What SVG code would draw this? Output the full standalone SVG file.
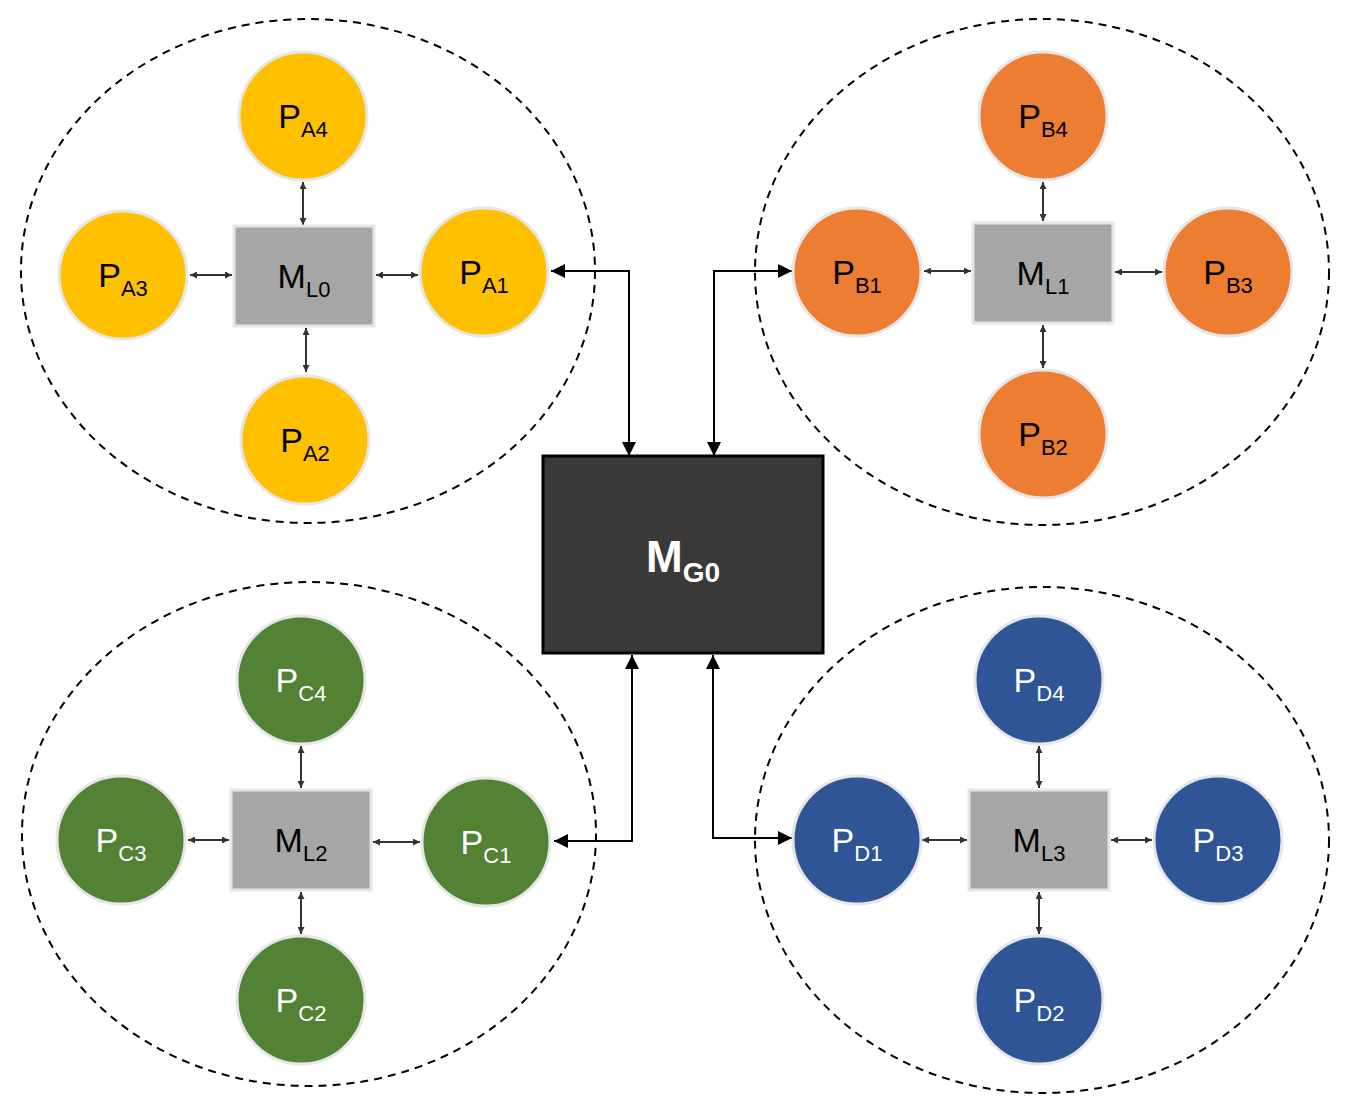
<svg xmlns="http://www.w3.org/2000/svg" width="1353" height="1110" viewBox="0 0 1353 1110">
<style>
.ell{fill:none;stroke:#000;stroke-width:2;stroke-dasharray:8,6}
.pa{fill:#ffc000;stroke:#e6e6e6;stroke-width:3}
.pb{fill:#ed7d31;stroke:#e6e6e6;stroke-width:3}
.pc{fill:#548235;stroke:#e6e6e6;stroke-width:3}
.pd{fill:#2f5597;stroke:#e6e6e6;stroke-width:3}
.ml{fill:#a6a6a6;stroke:#e6e6e6;stroke-width:3}
.t{font-family:"Liberation Sans",Arial,sans-serif;font-size:34px;text-anchor:middle}
.s{font-size:22px}
.dk{fill:#000}.wh{fill:#fff}
.in{stroke:#333;stroke-width:2;fill:none;marker-start:url(#a2);marker-end:url(#a2)}
.ex{stroke:#000;stroke-width:2;fill:none;marker-start:url(#a1);marker-end:url(#a1)}
</style>
<defs>
<marker id="a2" viewBox="0 0 10 10" refX="10" refY="5" markerWidth="7" markerHeight="7" markerUnits="userSpaceOnUse" orient="auto-start-reverse"><path d="M0,0L10,5L0,10z" fill="#333"/></marker>
<marker id="a1" viewBox="0 0 10 10" refX="10" refY="5" markerWidth="14" markerHeight="14" markerUnits="userSpaceOnUse" orient="auto-start-reverse"><path d="M0,0L10,5L0,10z" fill="#000"/></marker>
</defs>
<g id="clusters">
<ellipse class="ell" cx="308" cy="271" rx="287" ry="252"/>
<ellipse class="ell" cx="1042" cy="272" rx="287" ry="253"/>
<ellipse class="ell" cx="309" cy="834" rx="287" ry="252"/>
<ellipse class="ell" cx="1042" cy="840" rx="287" ry="253"/>
</g>
<g id="connectors">
<path class="in" d="M303,182V225"/><path class="in" d="M306,328V372"/>
<path class="in" d="M190,275H232"/><path class="in" d="M376,275H418"/>
<path class="in" d="M1043,182V221"/><path class="in" d="M1043,325V368"/>
<path class="in" d="M924,271H971"/><path class="in" d="M1115,272H1162"/>
<path class="in" d="M301,746V788"/><path class="in" d="M301,892V934"/>
<path class="in" d="M188,840H229"/><path class="in" d="M373,842H420"/>
<path class="in" d="M1039,746V788"/><path class="in" d="M1039,892V934"/>
<path class="in" d="M922,840H967"/><path class="in" d="M1111,840H1152"/>
<path class="ex" d="M551,271H629V456"/>
<path class="ex" d="M714,456V271H792"/>
<path class="ex" d="M632,655V841H554"/>
<path class="ex" d="M713,655V838H792"/>
</g>
<g id="MG0"><rect x="543" y="456" width="280" height="197" fill="#3a3937" stroke="#000" stroke-width="3"/>
<text class="t wh" x="683" y="572" font-size="44" font-weight="bold" style="font-size:44px">M<tspan style="font-size:28px" dy="10">G0</tspan></text></g>
<g id="ML0"><rect class="ml" x="234" y="226" width="140" height="100"/><text class="t dk" x="304" y="288">M<tspan class="s" dy="9">L0</tspan></text></g>
<g id="ML1"><rect class="ml" x="973" y="223" width="140" height="100"/><text class="t dk" x="1043" y="285">M<tspan class="s" dy="9">L1</tspan></text></g>
<g id="ML2"><rect class="ml" x="231" y="790" width="140" height="100"/><text class="t dk" x="301" y="852">M<tspan class="s" dy="9">L2</tspan></text></g>
<g id="ML3"><rect class="ml" x="969" y="790" width="140" height="100"/><text class="t dk" x="1039" y="852">M<tspan class="s" dy="9">L3</tspan></text></g>
<g id="PA4"><circle class="pa" cx="303" cy="116" r="64"/><text class="t dk" x="303" y="128">P<tspan class="s" dy="9">A4</tspan></text></g>
<g id="PA3"><circle class="pa" cx="123" cy="275" r="64"/><text class="t dk" x="123" y="287">P<tspan class="s" dy="9">A3</tspan></text></g>
<g id="PA1"><circle class="pa" cx="484" cy="272" r="64"/><text class="t dk" x="484" y="284">P<tspan class="s" dy="9">A1</tspan></text></g>
<g id="PA2"><circle class="pa" cx="305" cy="440" r="64"/><text class="t dk" x="305" y="452">P<tspan class="s" dy="9">A2</tspan></text></g>
<g id="PB4"><circle class="pb" cx="1043" cy="116" r="64"/><text class="t dk" x="1043" y="128">P<tspan class="s" dy="9">B4</tspan></text></g>
<g id="PB1"><circle class="pb" cx="857" cy="272" r="64"/><text class="t dk" x="857" y="284">P<tspan class="s" dy="9">B1</tspan></text></g>
<g id="PB3"><circle class="pb" cx="1228" cy="272" r="64"/><text class="t dk" x="1228" y="284">P<tspan class="s" dy="9">B3</tspan></text></g>
<g id="PB2"><circle class="pb" cx="1043" cy="434" r="64"/><text class="t dk" x="1043" y="446">P<tspan class="s" dy="9">B2</tspan></text></g>
<g id="PC4"><circle class="pc" cx="301" cy="680" r="64"/><text class="t wh" x="301" y="692">P<tspan class="s" dy="9">C4</tspan></text></g>
<g id="PC3"><circle class="pc" cx="121" cy="840" r="64"/><text class="t wh" x="121" y="852">P<tspan class="s" dy="9">C3</tspan></text></g>
<g id="PC1"><circle class="pc" cx="486" cy="842" r="64"/><text class="t wh" x="486" y="854">P<tspan class="s" dy="9">C1</tspan></text></g>
<g id="PC2"><circle class="pc" cx="301" cy="1000" r="64"/><text class="t wh" x="301" y="1012">P<tspan class="s" dy="9">C2</tspan></text></g>
<g id="PD4"><circle class="pd" cx="1039" cy="680" r="64"/><text class="t wh" x="1039" y="692">P<tspan class="s" dy="9">D4</tspan></text></g>
<g id="PD1"><circle class="pd" cx="857" cy="840" r="64"/><text class="t wh" x="857" y="852">P<tspan class="s" dy="9">D1</tspan></text></g>
<g id="PD3"><circle class="pd" cx="1218" cy="840" r="64"/><text class="t wh" x="1218" y="852">P<tspan class="s" dy="9">D3</tspan></text></g>
<g id="PD2"><circle class="pd" cx="1039" cy="1000" r="64"/><text class="t wh" x="1039" y="1012">P<tspan class="s" dy="9">D2</tspan></text></g>
</svg>
